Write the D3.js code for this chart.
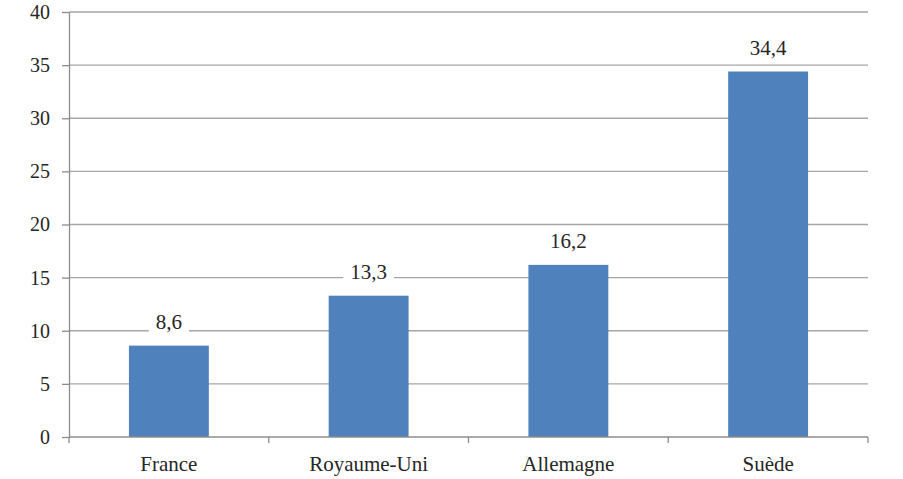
<html>
<head>
    <meta charset="utf-8">
    <title>Chart</title>
    <style>
        body {
            padding: 0;
            margin: 0;
            background: white;
        }

        .grid line {
            stroke: #a6a6a6;
            stroke-width: 1.3;
        }

        .axis path, .axis line {
            stroke: #8c8c8c;
            stroke-width: 1.3;
        }
    </style>
</head>
<body>
    <div id="chart"></div>

    <script src="https://d3js.org/d3.v7.min.js"></script>
    <script>
        var categories = ["France", "Royaume-Uni", "Allemagne", "Suède"];
        var values = [8.6, 13.3, 16.2, 34.4];
        var yTicks = [0, 5, 10, 15, 20, 25, 30, 35, 40];

        var width = 903,
            height = 479;

        var margin = { top: 12, left: 69, right: 35, bottom: 42 };
        var serif = "Liberation Serif";

        var svg = d3.select("#chart")
            .append("svg")
            .attr("width", width)
            .attr("height", height);

        var x = d3.scaleBand()
            .domain(categories)
            .range([margin.left, width - margin.right])
            .paddingInner(0.6)
            .paddingOuter(0.3);

        var y = d3.scaleLinear()
            .domain([0, 40])
            .range([height - margin.bottom, margin.top]);

        var fmt = function (d) { return String(d).replace(".", ","); };

        // gridlines
        svg.append("g")
            .attr("class", "grid")
            .selectAll("line")
            .data(yTicks.slice(1))
            .enter()
            .append("line")
            .attr("x1", margin.left)
            .attr("x2", width - margin.right)
            .attr("y1", function (d) { return y(d); })
            .attr("y2", function (d) { return y(d); });

        // bars
        svg.append("g")
            .selectAll("rect")
            .data(values)
            .enter()
            .append("rect")
            .attr("x", function (d, i) { return x(categories[i]); })
            .attr("width", x.bandwidth())
            .attr("y", function (d) { return y(d); })
            .attr("height", function (d) { return y(0) - y(d); })
            .attr("fill", "#4f81bd");

        // value labels, with a white box that cuts the gridline
        var labels = svg.append("g")
            .selectAll("g")
            .data(values)
            .enter()
            .append("g");

        labels.append("text")
            .attr("x", function (d, i) { return x(categories[i]) + x.bandwidth() / 2; })
            .attr("y", function (d) { return y(d) - 17; })
            .attr("text-anchor", "middle")
            .attr("font-family", serif)
            .attr("font-size", 21)
            .attr("fill", "#262626")
            .text(fmt);

        labels.each(function () {
            var g = d3.select(this);
            var b = g.select("text").node().getBBox();
            g.insert("rect", "text")
                .attr("x", b.x - 7)
                .attr("y", b.y)
                .attr("width", b.width + 14)
                .attr("height", b.height)
                .attr("fill", "white");
        });

        // y axis
        var yAxis = svg.append("g")
            .attr("class", "axis")
            .attr("transform", "translate(" + margin.left + ",0)")
            .call(d3.axisLeft(y).tickValues(yTicks).tickSize(7).tickPadding(12).tickSizeOuter(0));
        yAxis.selectAll("text")
            .attr("font-family", serif)
            .attr("font-size", 20)
            .attr("fill", "#262626");
        yAxis.attr("font-family", serif);

        // x axis: ticks between categories
        var xAxis = svg.append("g")
            .attr("class", "axis")
            .attr("transform", "translate(0," + y(0) + ")");
        xAxis.append("line")
            .attr("x1", margin.left)
            .attr("x2", width - margin.right);
        var bounds = d3.range(categories.length + 1).map(function (i) { return margin.left + i * (width - margin.left - margin.right) / categories.length; });
        xAxis.selectAll(".tk")
            .data(bounds)
            .enter()
            .append("line")
            .attr("class", "tk")
            .attr("x1", function (d) { return d; })
            .attr("x2", function (d) { return d; })
            .attr("y1", 0)
            .attr("y2", 6);
        xAxis.selectAll(".lbl")
            .data(categories)
            .enter()
            .append("text")
            .attr("class", "lbl")
            .attr("x", function (d) { return x(d) + x.bandwidth() / 2; })
            .attr("y", 34)
            .attr("text-anchor", "middle")
            .attr("font-family", serif)
            .attr("font-size", 21)
            .attr("fill", "#262626")
            .text(function (d) { return d; });
    </script>
</body>
</html>
